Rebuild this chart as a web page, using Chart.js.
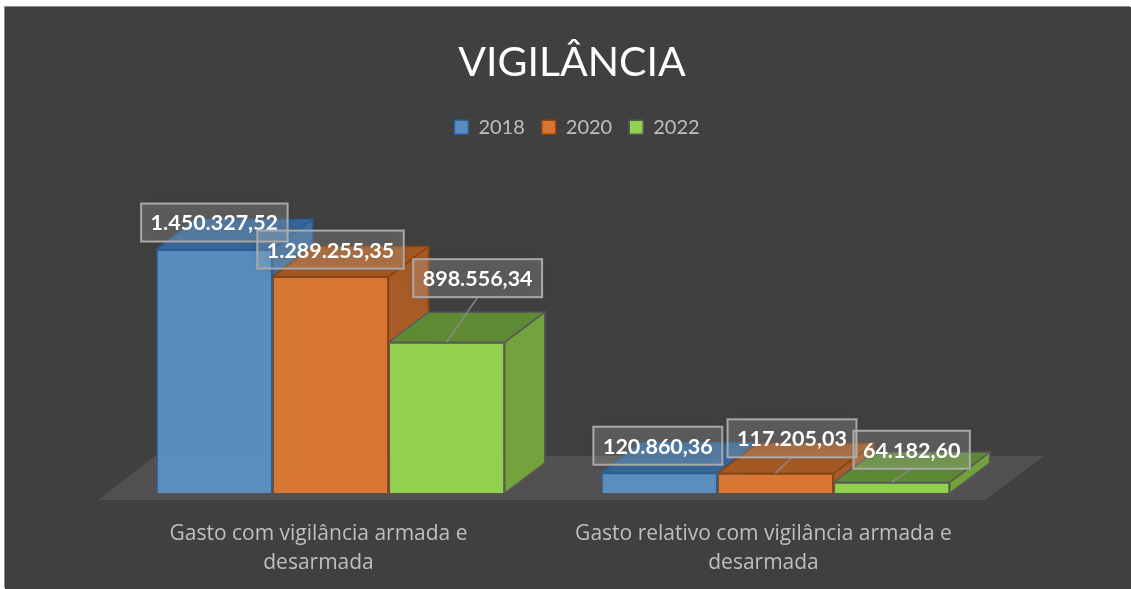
<!DOCTYPE html>
<html>
<head>
<meta charset="utf-8">
<title>Vigilância</title>
<script src="https://cdn.jsdelivr.net/npm/chart.js@4"></script>
<style>
  html, body { margin: 0; padding: 0; background: #fff; overflow: hidden; }
  #wrap { position: absolute; left: 5px; top: 7px; width: 1126px; height: 582px; background: #404040; box-shadow: -1px -1px 0 #8c8c8c; }
</style>
</head>
<body>
<div id="wrap"><canvas id="myChart" width="1126" height="582"></canvas></div>
<script>
var categories = [
    ['Gasto com vigilância armada e', 'desarmada'],
    ['Gasto relativo com vigilância armada e', 'desarmada']
];
var years = ['2018', '2020', '2022'];
var values2018 = [1450327.52, 120860.36];
var values2020 = [1289255.35, 117205.03];
var values2022 = [898556.34, 64182.60];
var yMax = 2060000;

// 3d look of the bars: how far the back of the box goes
var depthX = 40;
var depthY = -30;

var faceColors = [
    { front: 'rgba(91,144,198,0.94)', border: '#2a6099', top: '#37689a', side: '#3d6f9f' },
    { front: 'rgba(224,120,48,0.94)', border: '#8a4512', top: '#a55a24', side: '#a85c28' },
    { front: '#92d050', border: '#595959', top: '#5f8a34', side: '#72a33c' }
];

// where each value box sits, relative to the top centre of its bar [dx, dy, showLeader]
var labelPlaces = [
    [[0, -27, false], [-1.5, -27, false]],
    [[0, -27, false], [16.5, -35, true]],
    [[31, -64, true], [20, -32.5, true]]
];

function moneyText(v) {
    return v.toLocaleString('pt-BR', { minimumFractionDigits: 2, maximumFractionDigits: 2 });
}

function face(ctx, pts, fill, stroke) {
    ctx.beginPath();
    ctx.moveTo(pts[0][0], pts[0][1]);
    for (var i = 1; i < pts.length; i++) {
        ctx.lineTo(pts[i][0], pts[i][1]);
    }
    ctx.closePath();
    ctx.fillStyle = fill;
    ctx.fill();
    if (stroke) {
        ctx.lineWidth = 1.5;
        ctx.strokeStyle = stroke;
        ctx.stroke();
    }
}

var boxes3d = {
    id: 'boxes3d',
    afterLayout: function (chart) {
        // the legend sits a little right of the title in the original
        chart.legend.left += 10;
    },
    beforeDatasetsDraw: function (chart) {
        var ctx = chart.ctx;
        var area = chart.chartArea;
        ctx.save();
        // floor
        face(ctx, [
            [area.left - 10, area.bottom + 7],
            [area.left + 47, area.bottom - 37],
            [area.right + 46, area.bottom - 37],
            [area.right - 13, area.bottom + 7]
        ], '#525050');
        chart.data.datasets.forEach(function (ds, i) {
            var c = faceColors[i];
            chart.getDatasetMeta(i).data.forEach(function (bar) {
                var l = bar.x - bar.width / 2;
                var r = bar.x + bar.width / 2;
                face(ctx, [[r, bar.y], [r + depthX, bar.y + depthY], [r + depthX, bar.base + depthY], [r, bar.base]], c.side, c.border);
                face(ctx, [[l, bar.y], [r, bar.y], [r + depthX, bar.y + depthY], [l + depthX, bar.y + depthY]], c.top, c.border);
            });
        });
        ctx.restore();
    },
    afterDatasetsDraw: function (chart) {
        var ctx = chart.ctx;
        ctx.save();
        ctx.font = 'bold 21.5px Lato';
        ctx.textAlign = 'center';
        ctx.textBaseline = 'middle';
        chart.data.datasets.forEach(function (ds, i) {
            chart.getDatasetMeta(i).data.forEach(function (bar, j) {
                var place = labelPlaces[i][j];
                var text = moneyText(ds.data[j]);
                var cx = bar.x + place[0];
                var cy = bar.y + place[1];
                var w = ctx.measureText(text).width + 19;
                var h = 38;
                if (place[2]) {
                    ctx.beginPath();
                    ctx.moveTo(cx, cy + h / 2);
                    ctx.lineTo(bar.x, bar.y);
                    ctx.lineWidth = 1.5;
                    ctx.strokeStyle = '#8c8c8c';
                    ctx.stroke();
                }
                ctx.save();
                ctx.shadowColor = 'rgba(0,0,0,0.55)';
                ctx.shadowBlur = 14;
                ctx.fillStyle = 'rgba(255,255,255,0.16)';
                ctx.fillRect(cx - w / 2, cy - h / 2, w, h);
                ctx.restore();
                ctx.lineWidth = 2;
                ctx.strokeStyle = '#a9a9a9';
                ctx.strokeRect(cx - w / 2, cy - h / 2, w, h);
                ctx.fillStyle = '#ffffff';
                ctx.fillText(text, cx, cy + 1);
            });
        });
        ctx.restore();
    }
};

function makeDataset(i, values) {
    return {
        label: years[i],
        data: values,
        backgroundColor: faceColors[i].front,
        borderColor: faceColors[i].border,
        borderWidth: 1.5,
        barPercentage: 1,
        categoryPercentage: 0.783
    };
}

new Chart(document.getElementById('myChart'), {
    type: 'bar',
    data: {
        labels: categories,
        datasets: [makeDataset(0, values2018), makeDataset(1, values2020), makeDataset(2, values2022)]
    },
    plugins: [boxes3d],
    options: {
        responsive: false,
        animation: false,
        layout: { padding: { left: 8, right: 0, top: 0, bottom: 0 } },
        plugins: {
            tooltip: { enabled: false },
            title: {
                display: true,
                text: 'VIGILÂNCIA',
                color: '#ffffff',
                font: { family: 'Lato', size: 41, weight: 'normal' },
                padding: { top: 31, bottom: 13 }
            },
            legend: {
                position: 'top',
                labels: {
                    color: '#bfbfbf',
                    font: { family: 'Lato', size: 20 },
                    boxWidth: 14,
                    boxHeight: 14,
                    padding: 17
                }
            }
        },
        scales: {
            x: {
                grid: { display: false },
                border: { display: false },
                afterFit: function (scale) { scale.height = 96; },
                ticks: {
                    color: '#bfbfbf',
                    font: { family: 'Open Sans', size: 21, lineHeight: 1.38 },
                    padding: 19,
                    labelOffset: -12,
                    maxRotation: 0,
                    autoSkip: false
                }
            },
            y: {
                min: 0,
                max: yMax,
                grid: { display: false },
                border: { display: false },
                ticks: { display: false },
                afterFit: function (scale) { scale.width = 95; }
            },
            y2: {
                position: 'right',
                grid: { display: false },
                border: { display: false },
                ticks: { display: false },
                afterFit: function (scale) { scale.width = 133; }
            }
        }
    }
});
</script>
</body>
</html>
